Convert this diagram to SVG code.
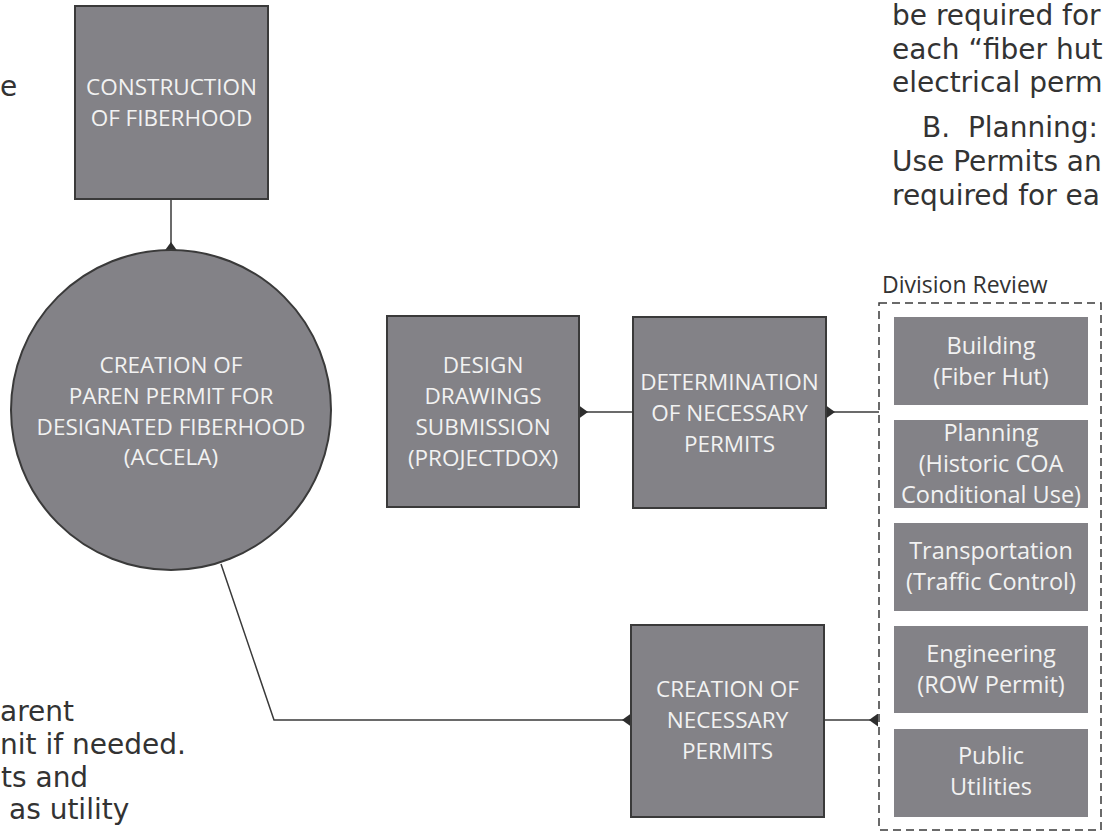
<svg xmlns="http://www.w3.org/2000/svg" width="1103" height="833" viewBox="0 0 1103 833">
<style>
.node{fill:#838287;stroke:#3a3a3a;stroke-width:2}
.sub{fill:#838287}
.nt{font-family:"Open Sans","Noto Sans",sans-serif;font-size:22.5px;fill:#f2f2f2;text-anchor:middle}
.st{font-family:"Open Sans","Noto Sans",sans-serif;font-size:23.5px;fill:#f2f2f2;text-anchor:middle}
.body{font-family:"DejaVu Sans","Verdana",sans-serif;font-size:28px;fill:#333333}
.lbl{font-family:"Open Sans","Noto Sans",sans-serif;font-size:23px;fill:#333333}
.conn{fill:none;stroke:#3a3a3a;stroke-width:1.5}
.dash{fill:none;stroke:#3a3a3a;stroke-width:1.5;stroke-dasharray:8 5}
</style>
<defs>
<marker id="tri" viewBox="0 0 9 13" markerWidth="9" markerHeight="13" refX="0" refY="6.5" markerUnits="userSpaceOnUse" orient="auto">
<path d="M0,0 L9,6.5 L0,13 z" fill="#2e2e2e"/>
</marker>
</defs>
<rect width="1103" height="833" fill="#ffffff"/>

<g id="page-text">
<text class="body" x="0" y="96">e</text>
<text class="body" x="892" y="25">be required for</text>
<text class="body" x="892" y="59">each “fiber hut</text>
<text class="body" x="892" y="92">electrical perm</text>
<text class="body" x="922" y="137" xml:space="preserve">B.  Planning:</text>
<text class="body" x="892" y="171">Use Permits an</text>
<text class="body" x="892" y="205">required for ea</text>
<text class="body" x="0" y="721">arent</text>
<text class="body" x="0" y="754">nit if needed.</text>
<text class="body" x="1" y="787">ts and</text>
<text class="body" x="9" y="819">as utility</text>
</g>

<g id="connectors">
<path class="conn" d="M171,251 L171,199" marker-start="url(#tri)"/>
<path class="conn" d="M579,412 L633,412" marker-start="url(#tri)"/>
<path class="conn" d="M826,412 L879,412" marker-start="url(#tri)"/>
<path class="conn" d="M878,720 L824,720" marker-start="url(#tri)"/>
<path class="conn" d="M631,720 L274,720 L221,564" marker-start="url(#tri)"/>
</g>

<g id="construction">
<rect class="node" x="75" y="6" width="193" height="193"/>
<text class="nt" x="171.5" y="95">CONSTRUCTION</text>
<text class="nt" x="171.5" y="126">OF FIBERHOOD</text>
</g>

<g id="parent-permit">
<circle class="node" cx="171" cy="410" r="160"/>
<text class="nt" x="171" y="373">CREATION OF</text>
<text class="nt" x="171" y="404">PAREN PERMIT FOR</text>
<text class="nt" x="171" y="435">DESIGNATED FIBERHOOD</text>
<text class="nt" x="171" y="465">(ACCELA)</text>
</g>

<g id="design-drawings">
<rect class="node" x="387" y="316" width="192" height="191"/>
<text class="nt" x="483" y="373">DESIGN</text>
<text class="nt" x="483" y="404">DRAWINGS</text>
<text class="nt" x="483" y="435">SUBMISSION</text>
<text class="nt" x="483" y="466">(PROJECTDOX)</text>
</g>

<g id="determination">
<rect class="node" x="633" y="317" width="193" height="191"/>
<text class="nt" x="729.5" y="390">DETERMINATION</text>
<text class="nt" x="729.5" y="421">OF NECESSARY</text>
<text class="nt" x="729.5" y="452">PERMITS</text>
</g>

<g id="creation-permits">
<rect class="node" x="631" y="625" width="193" height="192"/>
<text class="nt" x="727.5" y="697">CREATION OF</text>
<text class="nt" x="727.5" y="728">NECESSARY</text>
<text class="nt" x="727.5" y="759">PERMITS</text>
</g>

<g id="division-review">
<text class="lbl" x="882" y="293">Division Review</text>
<rect class="dash" x="879" y="303" width="222" height="527"/>
<g id="building">
<rect class="sub" x="894" y="317" width="194" height="88"/>
<text class="st" x="991" y="354">Building</text>
<text class="st" x="991" y="385">(Fiber Hut)</text>
</g>
<g id="planning">
<rect class="sub" x="894" y="420" width="194" height="88"/>
<text class="st" x="991" y="441">Planning</text>
<text class="st" x="991" y="472">(Historic COA</text>
<text class="st" x="991" y="503">Conditional Use)</text>
</g>
<g id="transportation">
<rect class="sub" x="894" y="523" width="194" height="88"/>
<text class="st" x="991" y="559">Transportation</text>
<text class="st" x="991" y="590">(Traffic Control)</text>
</g>
<g id="engineering">
<rect class="sub" x="894" y="626" width="194" height="87"/>
<text class="st" x="991" y="662">Engineering</text>
<text class="st" x="991" y="693">(ROW Permit)</text>
</g>
<g id="public-utilities">
<rect class="sub" x="894" y="729" width="194" height="88"/>
<text class="st" x="991" y="764">Public</text>
<text class="st" x="991" y="795">Utilities</text>
</g>
</g>
</svg>
